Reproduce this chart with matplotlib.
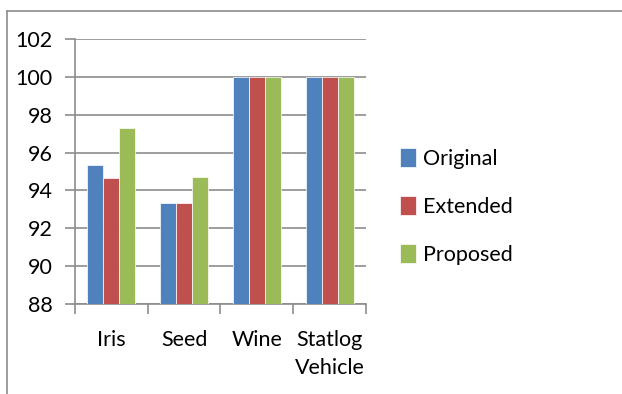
import numpy as np
import matplotlib.pyplot as plt
from matplotlib.lines import Line2D

plt.rcParams['font.family'] = ['Lato', 'DejaVu Sans']

datasets = ['Iris', 'Seed', 'Wine', 'Statlog\nVehicle']
original = [95.33, 93.33, 100, 100]
extended = [94.67, 93.33, 100, 100]
proposed = [97.3, 94.7, 100, 100]

series = [('Original', original, '#4F81BD'),
          ('Extended', extended, '#C0504D'),
          ('Proposed', proposed, '#9BBB59')]

fig = plt.figure(figsize=(6.22, 3.94), dpi=100)
ax = fig.add_axes([0.1206, 0.2284, 0.4678, 0.6726])

# outer chart frame (left and top edges only fall inside the image)
frame_x = 6.5 / 622
frame_y = 1 - 10.5 / 394
fig.lines.append(Line2D([frame_x, frame_x], [0, frame_y], transform=fig.transFigure,
                        color='#8c8c8c', lw=1.2))
fig.lines.append(Line2D([frame_x, 1], [frame_y, frame_y], transform=fig.transFigure,
                        color='#8c8c8c', lw=1.2))

x = np.arange(len(datasets))
w = 0.22
for i, (name, vals, col) in enumerate(series):
    ax.bar(x + (i - 1) * w, np.array(vals) - 88, w, bottom=88, color=col,
           edgecolor='white', linewidth=0.5, label=name, zorder=3)

ax.set_xlim(-0.5, 3.5)
ax.set_ylim(88, 102)
ax.set_yticks(range(88, 103, 2))
ax.grid(axis='y', color='#8c8c8c', lw=1.2, zorder=0)

ax.set_xticks(np.arange(-0.5, 4, 1))
ax.set_xticklabels([])
ax.set_xticks(x, minor=True)
ax.set_xticklabels(datasets, minor=True, fontsize=15.5, linespacing=1.5,
                   va='top')
ax.tick_params(axis='x', which='minor', length=0, pad=19)
ax.tick_params(axis='x', which='major', length=7, width=1.2, color='#8c8c8c')
ax.tick_params(axis='y', length=7, width=1.2, color='#8c8c8c',
               labelsize=15.5, pad=9)

for s in ['top', 'right']:
    ax.spines[s].set_visible(False)
for s in ['left', 'bottom']:
    ax.spines[s].set_color('#8c8c8c')
    ax.spines[s].set_linewidth(1.2)

fig.legend(loc='center left', bbox_to_anchor=(0.612, 0.476), frameon=False,
           fontsize=15.5, handlelength=0.75, handleheight=1.0, handletextpad=0.3,
           labelspacing=1.25)

fig.savefig('out.png', dpi=100)
